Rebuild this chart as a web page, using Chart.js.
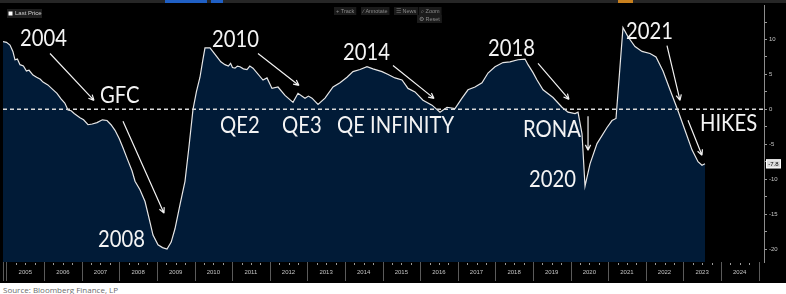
<!DOCTYPE html>
<html>
<head>
<meta charset="utf-8">
<script src="https://cdn.jsdelivr.net/npm/chart.js@4/dist/chart.umd.min.js"></script>
<style>
  html, body { margin: 0; padding: 0; background: #fff; }
  #wrap { width: 786px; height: 283px; background: #000; }
  #src { font: 8px "Open Sans", sans-serif; color: #6b6b6b; padding: 1px 0 0 3px; }
</style>
</head>
<body>
<div id="wrap"><canvas id="c" width="786" height="283"></canvas></div>
<div id="src">Source: Bloomberg Finance, LP</div>
<script>
// series (decimal year, value)
const dates = [
  2004.907, 2005.000, 2005.093, 2005.170, 2005.226, 2005.290, 2005.359, 2005.450, 2005.530, 2005.600,
  2005.705, 2005.800, 2005.900, 2005.971, 2006.100, 2006.220, 2006.343, 2006.450, 2006.550, 2006.636,
  2006.720, 2006.800, 2006.955, 2007.050, 2007.168, 2007.280, 2007.407, 2007.550, 2007.673, 2007.780,
  2007.886, 2008.000, 2008.098, 2008.220, 2008.338, 2008.418, 2008.550, 2008.684, 2008.800, 2008.896,
  2009.029, 2009.150, 2009.269, 2009.380, 2009.481, 2009.620, 2009.747, 2009.850, 2009.960, 2010.050,
  2010.146, 2010.220, 2010.279, 2010.412, 2010.500, 2010.598, 2010.700, 2010.811, 2010.900, 2010.960,
  2011.010, 2011.077, 2011.140, 2011.210, 2011.300, 2011.396, 2011.470, 2011.556, 2011.822, 2011.928,
  2012.061, 2012.221, 2012.407, 2012.620, 2012.753, 2012.939, 2013.030, 2013.125, 2013.285, 2013.471,
  2013.684, 2013.870, 2014.056, 2014.215, 2014.402, 2014.588, 2014.747, 2014.987, 2015.150, 2015.332,
  2015.519, 2015.678, 2015.864, 2016.077, 2016.316, 2016.529, 2016.715, 2016.928, 2017.114, 2017.274,
  2017.460, 2017.646, 2017.806, 2017.992, 2018.205, 2018.391, 2018.604, 2018.790, 2018.870, 2019.000,
  2019.109, 2019.269, 2019.535, 2019.774, 2019.934, 2020.120, 2020.200, 2020.306, 2020.386, 2020.519,
  2020.705, 2020.971, 2021.104, 2021.210, 2021.316, 2021.396, 2021.529, 2021.715, 2021.902, 2022.114,
  2022.274, 2022.460, 2022.646, 2022.859, 2023.045, 2023.231, 2023.391, 2023.497, 2023.577
];
const values = [
  9.7, 9.6, 9.2, 8.3, 7.1, 7.2, 6.4, 6.2, 5.5, 5.6,
  4.9, 4.6, 4.3, 3.9, 3.5, 2.9, 2.3, 1.5, 0.9, -0.1,
  -0.2, -0.6, -1.2, -1.5, -2.2, -2.1, -1.9, -1.5, -1.6, -2.2,
  -3.0, -4.2, -5.5, -7.2, -8.8, -10.3, -11.5, -13.2, -15.8, -18.0,
  -19.4, -19.8, -20.0, -19.0, -17.1, -13.5, -10.3, -5.5, 0.0, 2.5,
  4.6, 7.0, 8.8, 8.8, 8.2, 7.5, 6.8, 6.4, 6.2, 6.6,
  6.0, 5.9, 6.2, 6.1, 5.8, 5.7, 6.2, 5.9, 4.2, 4.5,
  3.0, 3.2, 2.0, 1.0, 2.3, 1.6, 1.9, 1.6, 0.7, 1.6,
  3.2, 3.8, 4.6, 5.4, 5.7, 6.1, 5.8, 5.4, 5.0, 4.5,
  4.2, 3.0, 2.5, 1.3, 0.6, -0.4, 0.3, 0.1, 1.6, 2.8,
  3.2, 3.8, 5.2, 6.1, 6.7, 6.8, 7.1, 7.2, 6.4, 5.3,
  4.2, 2.8, 1.7, 0.3, -0.4, -0.6, -0.4, -3.5, -11.0, -7.8,
  -4.9, -2.6, -1.6, -1.3, 6.1, 11.7, 10.4, 9.0, 8.3, 8.0,
  7.5, 5.5, 2.8, -0.2, -3.0, -5.8, -7.5, -8.0, -7.8
];
const yTickValues = [-20, -15, -10, -5, 0, 5, 10];
const yearLabels = [2005, 2006, 2007, 2008, 2009, 2010, 2011, 2012, 2013, 2014,
                    2015, 2016, 2017, 2018, 2019, 2020, 2021, 2022, 2023, 2024];

// annotations in data units: [text, year, value] (left / baseline)
const notes = [
  ['2004', 2005.359, 9.14], ['GFC', 2007.487, 0.86], ['2008', 2007.434, -19.71],
  ['2010', 2010.465, 8.86], ['QE2', 2010.678, -3.43], ['QE3', 2012.327, -3.43],
  ['QE INFINITY', 2013.790, -3.43], ['2014', 2013.949, 7.0], ['2018', 2017.806, 7.71],
  ['RONA', 2018.737, -4.0], ['2020', 2018.896, -11.14], ['2021', 2021.476, 10.14],
  ['HIKES', 2023.444, -3.14]
];
// arrows: [fromYear, fromValue, toYear, toValue]
const arrows = [
  [2006.157, 8.0, 2007.327, 1.29], [2008.098, -1.71, 2009.189, -14.86],
  [2011.689, 8.0, 2012.779, 3.43], [2015.279, 6.29, 2016.370, 1.57],
  [2019.136, 6.57, 2019.960, 1.43], [2020.466, -1.0, 2020.466, -5.86],
  [2022.566, 9.14, 2022.912, 1.29], [2023.125, -1.57, 2023.497, -6.57]
];

const decor = {
  id: 'decor',
  beforeDraw(chart) {
    const { ctx, width, height } = chart;
    ctx.save();
    ctx.fillStyle = '#000';
    ctx.fillRect(0, 0, width, height);
    ctx.fillStyle = '#262626';
    ctx.fillRect(0, 0, width, 3);
    ctx.fillStyle = '#1f5fc4';
    ctx.fillRect(165, 0, 42, 3);
    ctx.fillRect(211, 0, 12, 3);
    ctx.fillStyle = '#c8801e';
    ctx.fillRect(618, 0, 15, 3);
    ctx.restore();
  },
  afterDatasetsDraw(chart) {
    const { ctx, chartArea: a, scales: { x, y } } = chart;
    ctx.save();
    // zero line
    const y0 = y.getPixelForValue(0);
    ctx.strokeStyle = '#d8d8d8';
    ctx.lineWidth = 1.5;
    ctx.setLineDash([4, 3]);
    ctx.beginPath();
    ctx.moveTo(a.left, y0);
    ctx.lineTo(a.right, y0);
    ctx.stroke();
    ctx.setLineDash([]);

    // arrows
    ctx.strokeStyle = '#f2f2f2';
    ctx.lineWidth = 1.2;
    arrows.forEach(([x1, v1, x2, v2]) => {
      const p1 = [x.getPixelForValue(x1), y.getPixelForValue(v1)];
      const p2 = [x.getPixelForValue(x2), y.getPixelForValue(v2)];
      const ang = Math.atan2(p2[1] - p1[1], p2[0] - p1[0]);
      ctx.beginPath();
      ctx.moveTo(p1[0], p1[1]);
      ctx.lineTo(p2[0], p2[1]);
      for (const s of [-1, 1]) {
        ctx.moveTo(p2[0], p2[1]);
        ctx.lineTo(p2[0] - 6 * Math.cos(ang + s * 0.45), p2[1] - 6 * Math.sin(ang + s * 0.45));
      }
      ctx.stroke();
    });

    // big labels
    ctx.fillStyle = '#f4f4f4';
    ctx.font = '23px Lato, sans-serif';
    ctx.textAlign = 'left';
    ctx.textBaseline = 'alphabetic';
    notes.forEach(([t, xv, yv]) => {
      ctx.save();
      ctx.translate(x.getPixelForValue(xv), y.getPixelForValue(yv));
      ctx.scale(0.88, 1);
      ctx.fillText(t, 0, 0);
      ctx.restore();
    });
    ctx.restore();
  },
  afterDraw(chart) {
    const { ctx, chartArea: a, scales: { x, y }, height } = chart;
    ctx.save();
    // x axis separators and minor ticks
    ctx.strokeStyle = '#5a5a5a';
    ctx.lineWidth = 1;
    for (let yr = 2005; yr <= 2025; yr++) {
      const px = Math.round(x.getPixelForValue(yr)) + 0.5;
      ctx.beginPath();
      ctx.moveTo(px, a.bottom);
      ctx.lineTo(px, height - 2);
      ctx.stroke();
    }
    ctx.beginPath();
    ctx.moveTo(a.left + 0.5, a.bottom);
    ctx.lineTo(a.left + 0.5, height - 2);
    ctx.stroke();
    ctx.strokeStyle = '#9a9a9a';
    for (let q = 2005 * 4; q <= 2025 * 4; q++) {
      if (q % 4 === 0) continue;
      const px = Math.round(x.getPixelForValue(q / 4)) + 0.5;
      ctx.beginPath();
      ctx.moveTo(px, a.bottom + 1);
      ctx.lineTo(px, a.bottom + 3);
      ctx.stroke();
    }

    // last value tag
    const last = values[values.length - 1];
    const ly = y.getPixelForValue(last);
    ctx.fillStyle = '#dcdcdc';
    ctx.fillRect(a.right + 2, ly - 4.5, 15, 9);
    ctx.strokeStyle = '#fff';
    ctx.strokeRect(a.right + 2.5, ly - 4, 14, 8);
    ctx.fillStyle = '#000';
    ctx.font = '6px Arial, sans-serif';
    ctx.textAlign = 'center';
    ctx.textBaseline = 'middle';
    ctx.fillText(last.toFixed(1), a.right + 9.5, ly + 0.5);

    // legend box
    ctx.fillStyle = '#1e1e1e';
    ctx.fillRect(7, 9, 35, 9);
    ctx.fillStyle = '#fff';
    ctx.fillRect(8.5, 11.5, 4, 4);
    ctx.fillStyle = '#d0d0d0';
    ctx.textAlign = 'left';
    ctx.font = '6px Arial, sans-serif';
    ctx.fillText('Last Price', 15, 13.8);

    // toolbar
    const tools = [['+ Track', 334, 7], ['\u2215 Annotate', 361, 7], ['\u2630 News', 394, 7], ['\u2315 Zoom', 419, 7], ['\u2699 Reset', 417, 15]];
    ctx.font = '5.5px Arial, sans-serif';
    tools.forEach(([t, tx, ty]) => {
      const w = ctx.measureText(t).width + 4;
      ctx.fillStyle = '#1b1b1b';
      ctx.fillRect(tx, ty, w, 8);
      ctx.fillStyle = '#8a8a8a';
      ctx.fillText(t, tx + 2, ty + 4.3);
    });
    ctx.restore();
  }
};

new Chart(document.getElementById('c'), {
  type: 'line',
  data: {
    datasets: [{
      data: dates.map((d, i) => ({ x: d, y: values[i] })),
      borderColor: '#e6e6e6',
      borderWidth: 1.2,
      backgroundColor: '#011b37',
      fill: 'start',
      pointRadius: 0,
      tension: 0
    }]
  },
  options: {
    responsive: false,
    animation: false,
    layout: { padding: { left: 3, top: 5, right: 0, bottom: 0 } },
    plugins: { legend: { display: false }, tooltip: { enabled: false } },
    scales: {
      x: {
        type: 'linear',
        min: 2004.907,
        max: 2025.146,
        afterBuildTicks: s => { s.ticks = yearLabels.map(yr => ({ value: yr + 0.5 })); },
        afterFit: s => { s.height = 21; },
        grid: { display: false, drawOnChartArea: false, drawTicks: false },
        border: { display: false },
        ticks: {
          autoSkip: false, maxRotation: 0, padding: 7,
          color: '#c4c4c4', font: { size: 6, family: 'Arial' },
          callback: v => String(Math.floor(v))
        }
      },
      y: {
        position: 'right',
        min: -21.857,
        max: 14.857,
        afterBuildTicks: s => {
          s.ticks = [];
          for (let v = -20; v <= 12.5; v += 2.5) s.ticks.push({ value: v });
        },
        afterFit: s => { s.width = 22; },
        grid: { drawOnChartArea: false, color: '#9a9a9a', tickLength: 3 },
        border: { display: true, color: '#8c8c8c' },
        ticks: {
          color: '#c4c4c4', font: { size: 6, family: 'Arial' }, padding: 2,
          callback: v => yTickValues.includes(v) ? String(v) : ''
        }
      }
    }
  },
  plugins: [decor]
});
</script>
</body>
</html>
